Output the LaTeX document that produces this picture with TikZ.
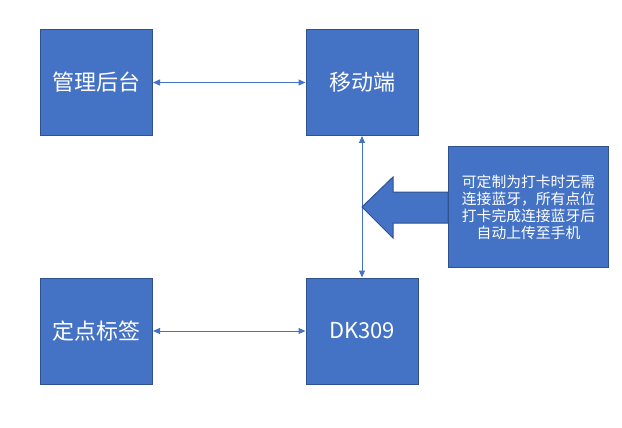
\documentclass[tikz,border=0pt]{standalone}
\usepackage{fontspec}
\setmainfont{Noto Sans CJK SC}
\usetikzlibrary{arrows.meta}
\definecolor{boxfill}{HTML}{4472C4}
\definecolor{boxline}{HTML}{2F528F}
\begin{document}
\begin{tikzpicture}[x=1pt,y=-1pt,
  blk/.style={draw=boxline,fill=boxfill,line width=1pt,text=white,minimum width=112pt,minimum height=106pt,inner sep=0pt,font=\fontsize{22}{25}\selectfont},
  note/.style={draw=boxline,fill=boxfill,line width=1pt,text=white,minimum width=160pt,minimum height=121pt,inner sep=0pt,align=center,font=\fontsize{14.8}{17}\selectfont},
  link/.style={draw=boxfill,line width=1pt,{Triangle[width=6pt,length=7pt]}-{Triangle[width=6pt,length=7pt]}}]
\useasboundingbox (0,0) rectangle (622,428);
\node[blk] (admin) at (96.5,82.5) {管理后台};
\node[blk] (mobile) at (362,82.5) {移动端};
\node[blk] (tag) at (96.5,331) {定点标签};
\node[blk] (dk) at (362,331) {DK309};
\node[note] (note) at (528.5,207) {可定制为打卡时无需\\连接蓝牙，所有点位\\打卡完成连接蓝牙后\\自动上传至手机};
\draw[link] (admin) -- (mobile);
\draw[link] (tag) -- (dk);
\draw[link] (mobile) -- (dk);
\draw[draw=boxline,fill=boxfill,line width=1pt]
  (note.west) ++(0,-15) -- ++(-55,0) -- ++(0,-15) -- (362,207) -- (393,238) -- (393,223) -- (note.west |- 0,223) -- cycle;
\end{tikzpicture}
\end{document}
